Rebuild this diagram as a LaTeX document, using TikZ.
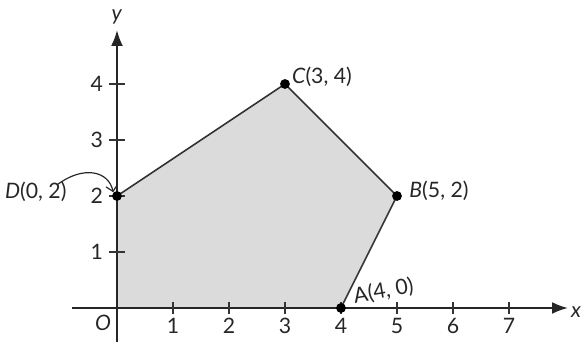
\documentclass[tikz,border=0pt]{standalone}
\usepackage{fontspec}
\setmainfont{Lato}
\usetikzlibrary{arrows.meta}
\begin{document}
\begin{tikzpicture}[x=1cm,y=1cm,
  axis/.style={line width=0.7pt,draw=black!85,-{Latex[length=8pt,width=6pt]}},
  tickmark/.style={line width=0.6pt,draw=black!80},
  edge/.style={line width=0.8pt,draw=black!80},
  lbl/.style={font=\fontsize{10.8}{13}\selectfont,text=black!85,inner sep=1pt},
  dot/.style={circle,fill=black,inner sep=0pt,minimum size=5pt}]
\useasboundingbox (-2.089,-0.607) rectangle (8.304,5.5);
% polygon
\coordinate (O) at (0,0);
\coordinate (A) at (4,0);
\coordinate (B) at (5,2);
\coordinate (C) at (3,4);
\coordinate (D) at (0,2);
\fill[black!14] (O) -- (A) -- (B) -- (C) -- (D) -- cycle;
% axes
\coordinate (xs) at (-0.8,0);
\coordinate (xe) at (8.05,0);
\coordinate (ys) at (0,-0.607);
\coordinate (ye) at (0,4.96);
\draw[axis] (xs) -- (xe);
\draw[axis] (ys) -- (ye);
\node[lbl] (xl) at (8.2,-0.07) {\textit{x}};
\node[lbl] (yl) at (0,5.2) {\textit{y}};
\node[lbl] (ol) at (-0.25,-0.27) {\textit{O}};
\foreach \i in {1,...,7}{
  \draw[tickmark] (\i,-0.11) -- (\i,0.11);
  \node[lbl] (xt\i) at (\i,-0.32) {\i};
}
\foreach \i in {1,...,4}{
  \draw[tickmark] (-0.14,\i) -- (0.14,\i);
  \node[lbl] (yt\i) at (-0.36,\i) {\i};
}
% edges
\draw[edge] (D) -- (C) -- (B) -- (A);
% dots
\node[dot] (pA) at (A) {};
\node[dot] (pB) at (B) {};
\node[dot] (pC) at (C) {};
\node[dot] (pD) at (D) {};
% labels
\node[lbl] (lC) at (3.66,4.12) {\textit{C}(3, 4)};
\node[lbl] (lB) at (5.75,2.1) {\textit{B}(5, 2)};
\node[lbl,rotate=10] (lA) at (4.76,0.3) {A(4, 0)};
\node[lbl] (lD) at (-1.45,2.07) {\textit{D}(0, 2)};
\coordinate (arrS) at (-1.07,2.2);
\draw[line width=0.6pt,black!85,-{Straight Barb[length=3pt]}] (arrS) .. controls (-0.6,2.55) and (-0.15,2.45) .. (pD.north west);
\end{tikzpicture}
\end{document}
